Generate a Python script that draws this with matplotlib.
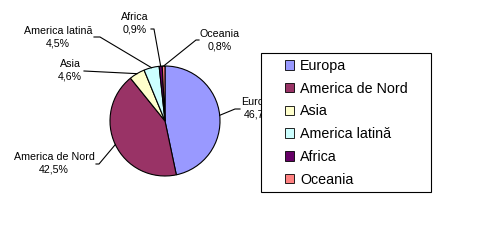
"""Pie chart: regional shares with leader-line labels and boxed legend."""

import numpy as np
from matplotlib import pyplot as plt
from matplotlib.patches import Patch, Rectangle

# Data.
regions = ["Europa", "America de Nord", "Asia", "America latină", "Africa", "Oceania"]
shares = [46.7, 42.5, 4.6, 4.5, 0.9, 0.8]
colors = ["#9999FF", "#993366", "#FFFFCC", "#CCFFFF", "#660066", "#FF8080"]

# Layout (pixels, y measured from the top of the image).
W, H = 478, 244
center = (165, 121)
radius = 55
# label text centre, and where the leader line leaves the label
label_pos = [(259, 108), (54, 163), (70, 70), (58, 37), (135, 23), (220, 40)]
leader_start = [
    [(240, 109), (235, 109)],
    [(96, 164), (99, 164)],
    [(84, 71)],
    [(94, 37), (100, 37)],
    [(151, 29), (154, 29)],
    [(199, 40), (196, 40)],
]

plt.rcParams["font.family"] = ["Liberation Sans", "DejaVu Sans"]

fig = plt.figure(figsize=(W / 100, H / 100), dpi=100)
ax = fig.add_axes([0, 0, 1, 1])
ax.set_xlim(0, W)
ax.set_ylim(0, H)
ax.set_aspect("equal")
ax.axis("off")

wedges, _ = ax.pie(
    shares,
    colors=colors,
    startangle=90,
    counterclock=False,
    center=(center[0], H - center[1]),
    radius=radius,
    wedgeprops=dict(edgecolor="black", linewidth=0.8),
    frame=True,
)
ax.set_xlim(0, W)
ax.set_ylim(0, H)
ax.axis("off")

for wedge, name, value, pos, start in zip(
    wedges, regions, shares, label_pos, leader_start
):
    mid = np.deg2rad((wedge.theta1 + wedge.theta2) / 2)
    ex = center[0] + radius * np.cos(mid)
    ey = H - center[1] + radius * np.sin(mid)
    xs = [p[0] for p in start] + [ex]
    ys = [H - p[1] for p in start] + [ey]
    ax.plot(xs, ys, color="black", linewidth=0.8, zorder=2)
    ax.text(
        pos[0], H - pos[1],
        f"{name}\n{value:.1f}%".replace(".", ","),
        ha="center", va="center", multialignment="center",
        fontsize=7.7, linespacing=1.35, zorder=2,
    )

# Legend box.
ax.add_patch(Rectangle((261, H - 192), 170, 139, facecolor="white",
                       edgecolor="black", linewidth=0.8, zorder=3))
handles = [Patch(facecolor=c, edgecolor="black", linewidth=0.6) for c in colors]
ax.legend(
    handles, regions,
    loc="upper left",
    bbox_to_anchor=(285, H - 59),
    bbox_transform=ax.transData,
    frameon=False,
    fontsize=10.3,
    handlelength=0.65,
    handleheight=0.65,
    handletextpad=0.4,
    labelspacing=0.61,
    borderpad=0,
    borderaxespad=0,
)

fig.savefig("out.png", dpi=100)
